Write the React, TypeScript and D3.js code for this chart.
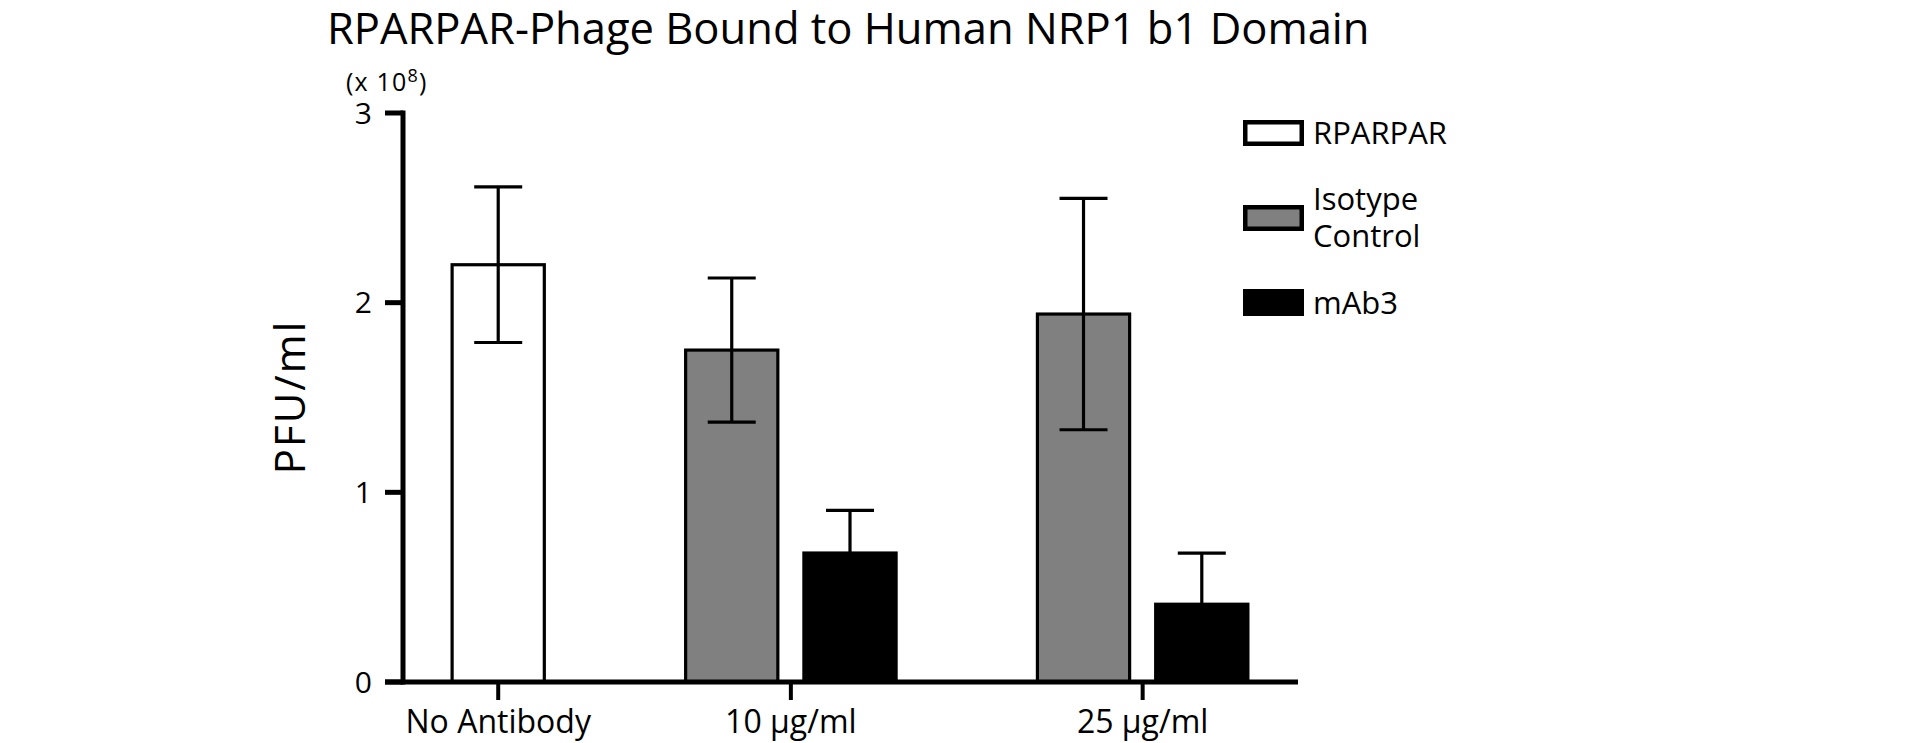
import * as React from "react";
import * as d3 from "d3";

// categories and series
const groups = ["No Antibody", "10 µg/ml", "25 µg/ml"];
const seriesNames = ["RPARPAR", "Isotype Control", "mAb3"];
const seriesLegend = [["RPARPAR"], ["Isotype", "Control"], ["mAb3"]];

// values in units of 10^8 PFU/ml (null = not measured in that group)
const rparparMean = [2.2, null, null];
const rparparErr = [0.41, null, null];
const isotypeMean = [null, 1.75, 1.94];
const isotypeErr = [null, 0.38, 0.61];
const mab3Mean = [null, 0.68, 0.41];
const mab3Err = [null, 0.225, 0.27];

const yTicks = [0, 1, 2, 3];

const means = [rparparMean, isotypeMean, mab3Mean];
const errs = [rparparErr, isotypeErr, mab3Err];

const FILLS = ["#ffffff", "#808080", "#000000"];
const FONT = "'Open Sans', sans-serif";

type Bar = { group: number; series: number; mean: number; err: number; x0: number; x1: number };

export default function App() {
  React.useEffect(() => {
    document.body.style.margin = "0";
  }, []);

  const width = 1924;
  const height = 743;

  const axisX = 403;
  const axisRight = 1298;
  const baseY = 682;
  const topY = 113;

  const y = d3.scaleLinear().domain([0, 3]).range([baseY, topY]);

  // layout units: padding, bar width, gap inside a group, gap between groups
  const barW = 92;
  const innerGap = 26;
  const outerGap = 141;
  const pad = 49;

  const bars: Bar[] = [];
  const groupCenters: number[] = [];
  let cursor = pad;
  groups.forEach((_, gi) => {
    const present = seriesNames.map((_, si) => si).filter((si) => means[si][gi] != null);
    const start = cursor;
    present.forEach((si, k) => {
      const x0 = cursor;
      bars.push({ group: gi, series: si, mean: means[si][gi] as number, err: errs[si][gi] as number, x0, x1: x0 + barW });
      cursor += barW + (k < present.length - 1 ? innerGap : 0);
    });
    groupCenters.push((start + cursor) / 2);
    if (gi < groups.length - 1) cursor += outerGap;
  });
  const total = cursor + pad + 1;
  const x = d3.scaleLinear().domain([0, total]).range([axisX, axisRight]);

  const capHalf = 24;

  return (
    <svg width={width} height={height} style={{ display: "block", position: "fixed", left: 0, top: 0, background: "#fff" }}>
      <text x={327} y={44} fontFamily={FONT} fontSize={43.5} fill="#000">
        RPARPAR-Phage Bound to Human NRP1 b1 Domain
      </text>

      <text x={346} y={91} fontFamily={FONT} fontSize={25} fill="#000" letterSpacing={1.2}>
        (x 10<tspan fontSize={18} dy={-9}>8</tspan>
        <tspan dy={9}>)</tspan>
      </text>

      <text
        transform="translate(305,397) rotate(-90)"
        textAnchor="middle"
        fontFamily={FONT}
        fontSize={42}
        letterSpacing={2}
        fill="#000"
      >
        PFU/ml
      </text>

      {/* bars */}
      {bars.map((b, i) => (
        <rect
          key={i}
          x={x(b.x0)}
          y={y(b.mean)}
          width={x(b.x1) - x(b.x0)}
          height={y(0) - y(b.mean)}
          fill={FILLS[b.series]}
          stroke="#000"
          strokeWidth={3.2}
        />
      ))}

      {/* error bars */}
      {bars.map((b, i) => {
        const cx = (x(b.x0) + x(b.x1)) / 2;
        const hi = y(b.mean + b.err);
        const lo = y(b.mean - b.err);
        return (
          <g key={i} stroke="#000" strokeWidth={3.2}>
            <line x1={cx} x2={cx} y1={hi} y2={lo} />
            <line x1={cx - capHalf} x2={cx + capHalf} y1={hi} y2={hi} />
            <line x1={cx - capHalf} x2={cx + capHalf} y1={lo} y2={lo} />
          </g>
        );
      })}

      {/* y axis */}
      <line x1={axisX} x2={axisX} y1={y(3) - 2.5} y2={y(0) + 2.5} stroke="#000" strokeWidth={5} />
      {yTicks.map((t) => (
        <g key={t}>
          <line x1={axisX - 18} x2={axisX} y1={y(t)} y2={y(t)} stroke="#000" strokeWidth={5} />
          <text
            x={372}
            y={y(t)}
            dy="0.36em"
            textAnchor="end"
            fontFamily={FONT}
            fontSize={30}
            fill="#000"
          >
            {t}
          </text>
        </g>
      ))}

      {/* x axis */}
      <line x1={axisX - 18} x2={axisRight} y1={baseY} y2={baseY} stroke="#000" strokeWidth={5} />
      {groups.map((g, gi) => {
        const gx = x(groupCenters[gi]);
        return (
          <g key={g}>
            <line x1={gx} x2={gx} y1={baseY} y2={baseY + 18} stroke="#000" strokeWidth={4} />
            <text x={gx} y={733} textAnchor="middle" fontFamily={FONT} fontSize={32} fill="#000">
              {g}
            </text>
          </g>
        );
      })}

      {/* legend */}
      {seriesNames.map((s, si) => {
        const boxY = [120, 205, 289][si];
        const thick = si === 2 ? 0 : 4.5;
        const lines = seriesLegend[si];
        const textY = [144, 210, 314][si];
        return (
          <g key={s}>
            <rect
              x={1243 + thick / 2}
              y={boxY + thick / 2}
              width={61 - thick}
              height={26 - thick}
              fill={FILLS[si]}
              stroke="#000"
              strokeWidth={thick}
            />
            {si === 2 && <rect x={1243} y={boxY} width={61} height={27} fill="#000" />}
            {lines.map((ln, li) => (
              <text key={li} x={1313} y={textY + li * 37} fontFamily={FONT} fontSize={31} fill="#000">
                {ln}
              </text>
            ))}
          </g>
        );
      })}
    </svg>
  );
}
